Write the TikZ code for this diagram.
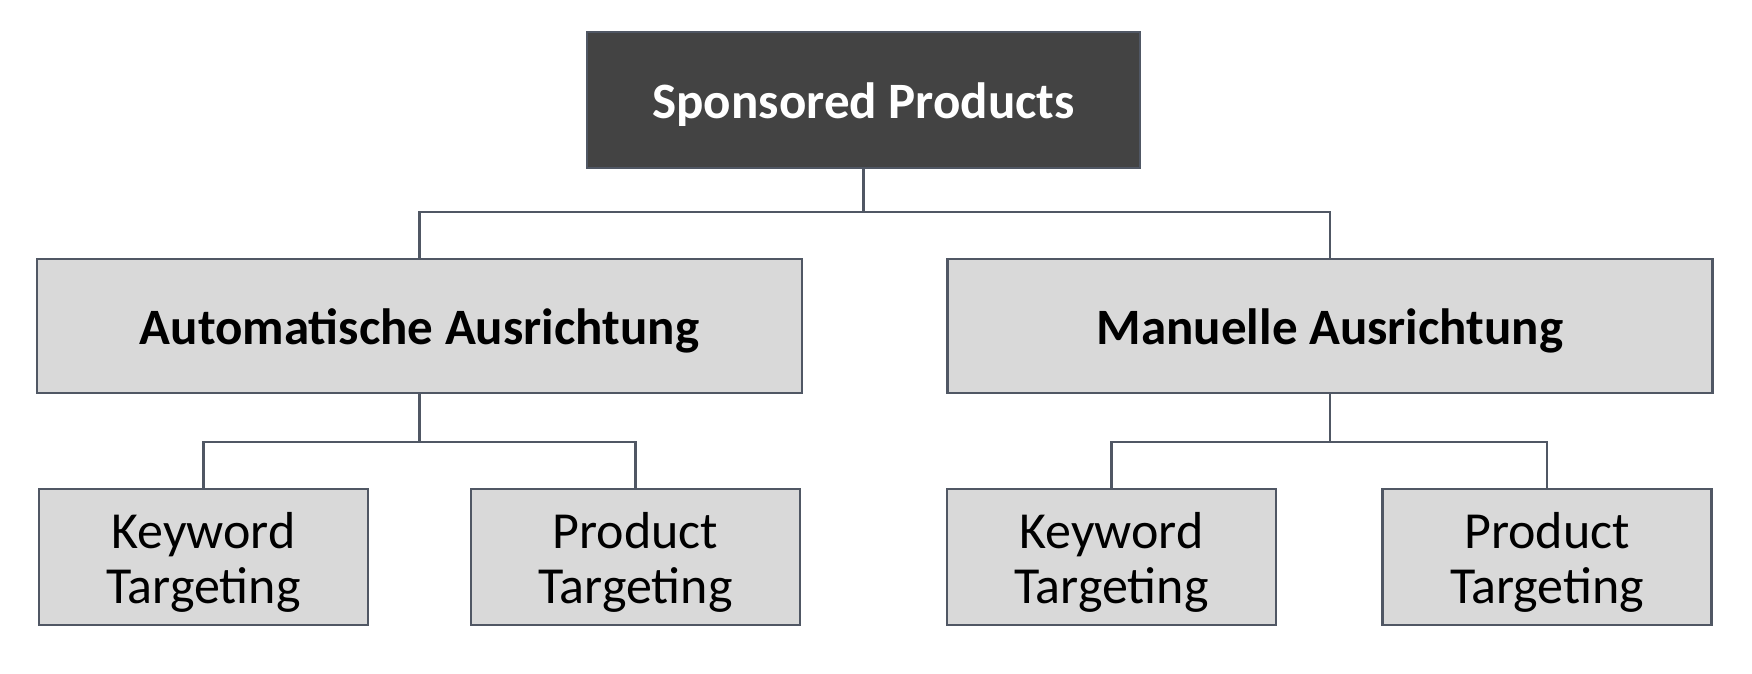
\documentclass[tikz,border=0pt]{standalone}
\usepackage{fontspec}
\setmainfont{Carlito}[Ligatures=Common]
\definecolor{edge}{HTML}{505764}
\definecolor{darkbox}{HTML}{434343}
\definecolor{lightbox}{HTML}{D9D9D9}
\newcommand{\lowtext}[1]{\raisebox{-7.5pt}[\height][\depth]{\begin{tabular}{@{}c@{}}#1\end{tabular}}}
\begin{document}
\begin{tikzpicture}[x=1pt,y=-1pt,
  box/.style={draw=edge, line width=2.2pt, rectangle, align=center, inner sep=0pt},
  topbox/.style={box, fill=darkbox, text=white, font=\fontsize{51}{55}\selectfont\bfseries, minimum width=553pt, minimum height=136pt},
  midbox/.style={box, fill=lightbox, text=black, font=\fontsize{51}{55}\selectfont\bfseries, minimum width=765pt, minimum height=134pt},
  leafbox/.style={box, fill=lightbox, text=black, font=\fontsize{52}{55}\selectfont, minimum width=329pt, minimum height=136pt},
  link/.style={draw=edge, line width=2.2pt}]
\useasboundingbox[fill=white] (0,0) rectangle (1752,674);
\node[topbox] (sp) at (863.5,100) {\lowtext{Sponsored Products}};
\node[midbox] (am) at (419.5,326) {\lowtext{Automatische Ausrichtung}};
\node[midbox] (mm) at (1330,326) {\lowtext{Manuelle Ausrichtung}};
\node[leafbox] (akt) at (203.5,557) {\lowtext{Keyword\\Targeting}};
\node[leafbox] (apt) at (635.5,557) {\lowtext{Product\\Targeting}};
\node[leafbox] (mkt) at (1111.5,557) {\lowtext{Keyword\\Targeting}};
\node[leafbox] (mpt) at (1547,557) {\lowtext{Product\\Targeting}};
\coordinate (j0) at (863.5,212);
\coordinate (j1) at (419.5,442);
\coordinate (j2) at (1330,442);
\draw[link] (sp.south) -- (j0);
\draw[link] (am.north) |- (j0) -| (mm.north);
\draw[link] (am.south) -- (j1);
\draw[link] (akt.north) |- (j1) -| (apt.north);
\draw[link] (mm.south) -- (j2);
\draw[link] (mkt.north) |- (j2) -| (mpt.north);
\end{tikzpicture}
\end{document}
